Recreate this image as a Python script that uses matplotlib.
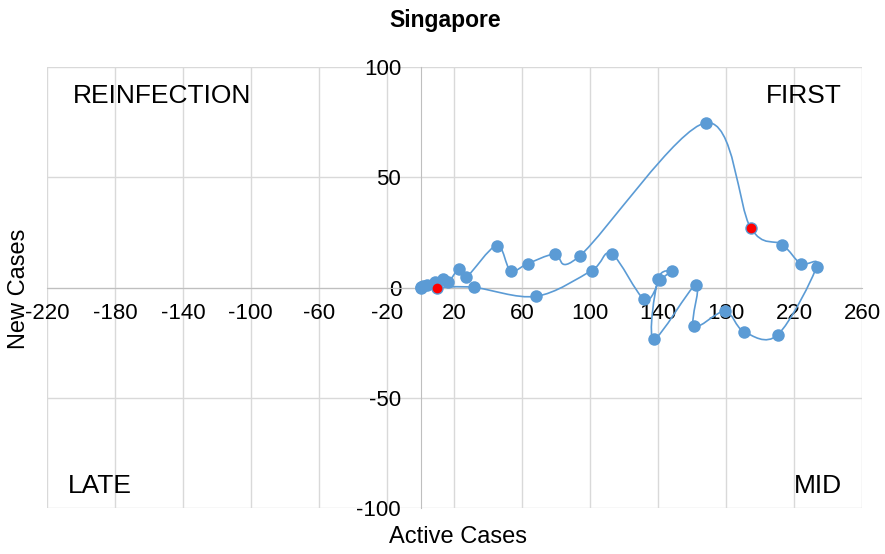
import numpy as np
import matplotlib
matplotlib.use("Agg")
import matplotlib.pyplot as plt
from matplotlib.path import Path
from matplotlib.patches import PathPatch

plt.rcParams['font.family'] = ['Liberation Sans', 'DejaVu Sans']
plt.rcParams['axes.unicode_minus'] = False

# data, in time order
active_cases = [0, 0.5, 1.5, 3.6, 8.5, 13.4, 16.3, 22.8, 27.0, 44.8, 53.0, 63.0,
                79.0, 94.0, 168.0, 194.4, 213.0, 223.8, 233.3, 210.3, 190.5,
                179.3, 161.0, 162.2, 137.4, 139.8, 148.0, 141.2, 131.8, 112.5,
                100.7, 68.0, 31.2, 9.8]
new_cases = [0, 0.3, 0.6, 1.2, 2.4, 4.0, 2.4, 8.5, 4.8, 19.0, 7.7, 10.8,
             15.3, 14.5, 74.7, 27.1, 19.5, 10.8, 9.5, -21.5, -20.0,
             -10.8, -17.6, 1.2, -23.3, 3.8, 7.4, 3.4, -5.3, 15.3,
             7.7, -4.0, 0.1, 0.0]
highlight = [15, 33]  # points drawn in red

x_ticks = list(range(-220, 261, 40))
y_ticks = [-100, -50, 0, 50, 100]
quadrants = ["REINFECTION", "FIRST", "LATE", "MID"]

blue = "#5B9BD5"
grid_c = "#D9D9D9"

fig = plt.figure(figsize=(8.85, 5.54), dpi=100)
ax = fig.add_axes([0.0531, 0.083, 0.9209, 0.796])
ax.set_xlim(-220, 260)
ax.set_ylim(-100, 100)

# smoothed line (Catmull-Rom -> cubic bezier, like Excel's smoothed line)
pts = np.column_stack([active_cases, new_cases]).astype(float)
ext = np.vstack([pts[0], pts, pts[-1]])
verts = [tuple(pts[0])]
codes = [Path.MOVETO]
for i in range(1, len(ext) - 2):
    p0, p1, p2, p3 = ext[i - 1], ext[i], ext[i + 1], ext[i + 2]
    c1 = p1 + (p2 - p0) / 6.0
    c2 = p2 - (p3 - p1) / 6.0
    verts += [tuple(c1), tuple(c2), tuple(p2)]
    codes += [Path.CURVE4] * 3
ax.add_patch(PathPatch(Path(verts, codes), facecolor="none", edgecolor=blue,
                       lw=1.2, zorder=3))

ax.plot(active_cases, new_cases, "o", color=blue, ms=9, mec="none", zorder=4)
ax.plot([active_cases[i] for i in highlight], [new_cases[i] for i in highlight],
        "o", color="red", ms=7, mec="none", zorder=5)

ax.set_xticks(x_ticks)
ax.set_yticks(y_ticks)
ax.grid(True, color=grid_c, lw=1.0, zorder=0)
ax.set_axisbelow(True)
for g in ax.get_xgridlines() + ax.get_ygridlines():
    g.set_clip_on(False)

ax.spines['left'].set_position(('data', 0))
ax.spines['bottom'].set_position(('data', 0))
ax.spines['top'].set_visible(False)
ax.spines['right'].set_visible(False)
ax.spines['left'].set_color("#BFBFBF")
ax.spines['bottom'].set_color("#BFBFBF")
ax.tick_params(axis='both', length=0, labelsize=16, colors="black")
ax.tick_params(axis='x', pad=11)
ax.tick_params(axis='y', pad=14)

ax.text(0.032, 0.935, quadrants[0], transform=ax.transAxes, fontsize=19,
        ha="left", va="center")
ax.text(0.975, 0.935, quadrants[1], transform=ax.transAxes, fontsize=19,
        ha="right", va="center")
ax.text(0.026, 0.05, quadrants[2], transform=ax.transAxes, fontsize=19,
        ha="left", va="center")
ax.text(0.975, 0.05, quadrants[3], transform=ax.transAxes, fontsize=19,
        ha="right", va="center")

fig.text(0.503, 0.963, "Singapore", ha="center", va="center", fontsize=16.5,
         fontweight="bold")
fig.text(0.517, 0.03, "Active Cases", ha="center", va="center", fontsize=17)
fig.text(0.021, 0.478, "New Cases", ha="center", va="center", fontsize=17,
         rotation=90)

fig.savefig("out.png", dpi=100)
